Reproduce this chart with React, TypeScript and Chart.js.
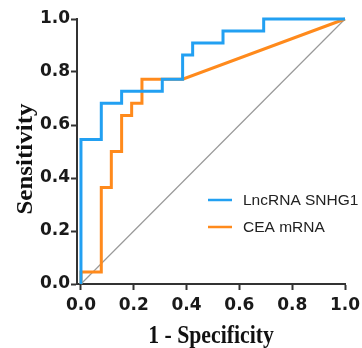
import React, { useEffect, useRef } from "react";
import { Chart, registerables } from "chart.js";

Chart.register(...registerables);

const xTicks = [0, 0.2, 0.4, 0.6, 0.8, 1.0];
const yTicks = [0, 0.2, 0.4, 0.6, 0.8, 1.0];

const seriesNames = ["LncRNA SNHG1", "CEA mRNA"];

// 1 - specificity / sensitivity (ROC path corners)
const snhg1Fpr = [0, 0, 0.077, 0.077, 0.154, 0.154, 0.308, 0.308, 0.385, 0.385, 0.423, 0.423, 0.538, 0.538, 0.692, 0.692, 1];
const snhg1Tpr = [0, 0.545, 0.545, 0.682, 0.682, 0.727, 0.727, 0.773, 0.773, 0.864, 0.864, 0.909, 0.909, 0.955, 0.955, 1, 1];

const ceaFpr = [0, 0, 0.077, 0.077, 0.115, 0.115, 0.154, 0.154, 0.192, 0.192, 0.231, 0.231, 0.385, 1];
const ceaTpr = [0, 0.045, 0.045, 0.364, 0.364, 0.5, 0.5, 0.636, 0.636, 0.682, 0.682, 0.773, 0.773, 1];

const refFpr = [0, 1];
const refTpr = [0, 1];

const xTitle = "1 - Specificity";
const yTitle = "Sensitivity";

const BLUE = "#22a0f2";
const ORANGE = "#ff8a1c";
const AXIS = "#333333";

const toPts = (xs: number[], ys: number[]) => xs.map((x, i) => ({ x, y: ys[i] }));

const overlayPlugin = {
  id: "overlay",
  afterDraw(chart: any) {
    const ctx = chart.ctx as CanvasRenderingContext2D;
    const area = chart.chartArea;
    ctx.save();
    // x title
    ctx.fillStyle = "#111";
    ctx.font = "bold 25px 'Liberation Serif', 'Times New Roman', serif";
    ctx.textAlign = "center";
    ctx.textBaseline = "alphabetic";
    ctx.save();
    ctx.translate((area.left + area.right) / 2, 343);
    ctx.scale(0.87, 1);
    ctx.fillText(xTitle, 0, 0);
    ctx.restore();
    // y title
    ctx.save();
    ctx.translate(32, 159);
    ctx.rotate(-Math.PI / 2);
    ctx.scale(1, 0.9);
    ctx.fillText(yTitle, 0, 0);
    ctx.restore();
    // legend
    ctx.font = "15.5px 'Liberation Sans', Arial, sans-serif";
    ctx.textAlign = "left";
    ctx.textBaseline = "middle";
    const ds = chart.data.datasets.filter((d: any) => d.label);
    ds.forEach((d: any, i: number) => {
      const y = 200 + i * 27;
      ctx.strokeStyle = d.borderColor;
      ctx.lineWidth = 2.5;
      ctx.beginPath();
      ctx.moveTo(208, y);
      ctx.lineTo(232, y);
      ctx.stroke();
      ctx.fillStyle = "#222";
      ctx.fillText(d.label, 243, y + 1);
    });
    ctx.restore();
  },
};

export default function App() {
  const ref = useRef<HTMLCanvasElement | null>(null);
  useEffect(() => {
    if (!ref.current) return;
    const tickFont = { family: "'DejaVu Sans', sans-serif", size: 17, weight: "bold" as const };
    const chart = new Chart(ref.current, {
      type: "line",
      data: {
        datasets: [
          {
            label: seriesNames[0],
            data: toPts(snhg1Fpr, snhg1Tpr),
            borderColor: BLUE,
            borderWidth: 3,
            pointRadius: 0,
            tension: 0,
            clip: false as any,
          },
          {
            label: seriesNames[1],
            data: toPts(ceaFpr, ceaTpr),
            borderColor: ORANGE,
            borderWidth: 3,
            pointRadius: 0,
            tension: 0,
            clip: false as any,
          },
          {
            label: "",
            data: toPts(refFpr, refTpr),
            borderColor: "#999999",
            borderWidth: 1.2,
            pointRadius: 0,
            tension: 0,
            clip: false as any,
          },
        ],
      },
      options: {
        responsive: false,
        animation: false,
        layout: { padding: { top: 19, right: 17, left: 0, bottom: 0 } },
        plugins: { legend: { display: false }, title: { display: false }, tooltip: { enabled: false } },
        scales: {
          x: {
            type: "linear",
            min: -0.015,
            max: 1,
            afterBuildTicks: (s: any) => {
              s.ticks = xTicks.map((v) => ({ value: v }));
            },
            afterFit: (s: any) => {
              s.height = 64;
              s.paddingLeft = 0;
              s.paddingRight = 0;
            },
            ticks: {
              font: tickFont,
              color: "#1a1a1a",
              padding: 5,
              maxRotation: 0,
              autoSkip: false,
              callback: (v: any) => Number(v).toFixed(1),
            },
            grid: { drawOnChartArea: false, drawTicks: true, tickLength: 6, tickWidth: 2, tickColor: AXIS },
            border: { display: true, color: AXIS, width: 2 },
          },
          y: {
            type: "linear",
            min: 0,
            max: 1,
            afterBuildTicks: (s: any) => {
              s.ticks = yTicks.map((v) => ({ value: v }));
            },
            afterFit: (s: any) => {
              s.width = 77;
              s.paddingTop = 0;
              s.paddingBottom = 0;
            },
            ticks: {
              font: tickFont,
              color: "#1a1a1a",
              padding: 1,
              autoSkip: false,
              callback: (v: any) => Number(v).toFixed(1),
            },
            grid: { drawOnChartArea: false, drawTicks: true, tickLength: 6, tickWidth: 2, tickColor: AXIS },
            border: { display: true, color: AXIS, width: 2 },
          },
        },
      },
      plugins: [overlayPlugin],
    });
    return () => chart.destroy();
  }, []);
  return (
    <div style={{ position: "absolute", left: 0, top: 0, width: 362, height: 348, background: "#fff" }}>
      <canvas ref={ref} width={362} height={348} style={{ width: 362, height: 348 }} />
    </div>
  );
}
